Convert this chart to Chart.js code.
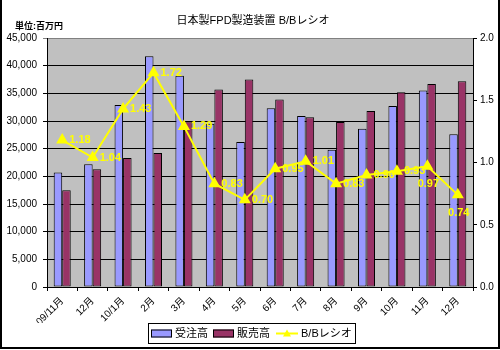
<!DOCTYPE html>
<html>
<head>
<meta charset="utf-8">
<script src="https://cdn.jsdelivr.net/npm/chart.js@4.4.1/dist/chart.umd.min.js"></script>
<style>
  html, body { margin: 0; padding: 0; background: #ffffff; }
  #wrap { position: relative; width: 500px; height: 350px; }
</style>
</head>
<body>
<div id="wrap"><canvas id="c" width="500" height="350"></canvas></div>
<script>
// Monthly figures (unit: million yen) and book-to-bill ratio
const categories = ['09/11月', '12月', '10/1月', '2月', '3月', '4月', '5月', '6月', '7月', '8月', '9月', '10月', '11月', '12月'];
const orders = [20700, 22200, 32900, 41700, 38200, 29500, 26200, 32300, 30900, 24800, 28600, 32700, 35500, 27600];
const sales = [17500, 21300, 23300, 24200, 29900, 35700, 37500, 33900, 30700, 29800, 31800, 35200, 36700, 37200];
const bbRatio = [1.18, 1.04, 1.43, 1.72, 1.29, 0.83, 0.70, 0.95, 1.01, 0.83, 0.90, 0.93, 0.97, 0.74];
const seriesNames = ['受注高', '販売高', 'B/Bレシオ'];
const chartTitle = '日本製FPD製造装置 B/Bレシオ';
const unitLabel = '単位:百万円';
// ratio labels placed under the point instead of to its right
const labelBelow = [false, false, false, false, false, false, false, false, false, false, false, false, true, true];

const FONT = "'Liberation Sans', Arial, 'Noto Sans CJK JP', sans-serif";
Chart.defaults.font.family = FONT;
Chart.defaults.color = '#000000';

const COL_ORDERS = '#9999FF';
const COL_SALES = '#993366';
const COL_RATIO = '#FFFF00';

const framePlugin = {
  id: 'frame',
  beforeDraw(chart) {
    const { ctx, chartArea: a } = chart;
    ctx.save();
    ctx.fillStyle = '#ffffff';
    ctx.fillRect(0, 0, chart.width, chart.height);
    ctx.fillStyle = '#C0C0C0';
    ctx.fillRect(a.left, a.top, a.right - a.left, a.bottom - a.top);
    ctx.restore();
  },
  afterDraw(chart) {
    const { ctx } = chart;
    ctx.save();
    // outer frame
    ctx.fillStyle = '#000000';
    ctx.fillRect(0, 0, 2, 349);
    ctx.fillRect(498, 0, 2, 349);
    ctx.fillRect(0, 347, 500, 2);
    // titles
    ctx.fillStyle = '#000000';
    ctx.textBaseline = 'middle';
    ctx.textAlign = 'center';
    ctx.font = "11px " + FONT;
    ctx.fillText(chartTitle, 253, 21);
    ctx.textAlign = 'left';
    ctx.font = "bold 9px " + FONT;
    ctx.fillText(unitLabel, 15, 27);

    // legend
    const lx = 148, ly = 323, lw = 207, lh = 20;
    ctx.lineWidth = 1;
    ctx.strokeStyle = '#000000';
    ctx.strokeRect(lx + 0.5, ly + 0.5, lw, lh);
    const cy = ly + 10.5;
    ctx.font = "11px " + FONT;
    ctx.textAlign = 'left';
    ctx.textBaseline = 'middle';
    const ds = chart.data.datasets;
    // bar swatches
    const swatchX = [151, 213];
    const textX = [175, 237];
    for (let i = 0; i < 2; i++) {
      const d = ds.find(s => s.label === seriesNames[i]);
      ctx.fillStyle = d.backgroundColor;
      ctx.fillRect(swatchX[i], cy - 4, 21, 8);
      ctx.strokeRect(swatchX[i] + 0.5, cy - 3.5, 20, 7);
      ctx.fillStyle = '#000000';
      ctx.fillText(d.label, textX[i], cy);
    }
    // line swatch
    const ld = ds.find(s => s.label === seriesNames[2]);
    ctx.strokeStyle = ld.borderColor;
    ctx.lineWidth = 2;
    ctx.beginPath();
    ctx.moveTo(276, cy);
    ctx.lineTo(298, cy);
    ctx.stroke();
    ctx.fillStyle = ld.borderColor;
    ctx.beginPath();
    ctx.moveTo(287, cy - 4);
    ctx.lineTo(291, cy + 3);
    ctx.lineTo(283, cy + 3);
    ctx.closePath();
    ctx.fill();
    ctx.fillStyle = '#000000';
    ctx.fillText(ld.label, 301, cy);
    ctx.restore();
  }
};

const ratioLabels = {
  id: 'ratioLabels',
  afterDatasetsDraw(chart) {
    const idx = chart.data.datasets.findIndex(s => s.label === seriesNames[2]);
    const meta = chart.getDatasetMeta(idx);
    const { ctx } = chart;
    ctx.save();
    ctx.font = "bold 11px " + FONT;
    ctx.fillStyle = COL_RATIO;
    ctx.textBaseline = 'middle';
    meta.data.forEach((pt, i) => {
      const txt = bbRatio[i].toFixed(2);
      if (labelBelow[i]) {
        ctx.textAlign = 'center';
        ctx.fillText(txt, pt.x + 1, pt.y + 18);
      } else {
        ctx.textAlign = 'left';
        ctx.fillText(txt, pt.x + 7, pt.y);
      }
    });
    ctx.restore();
  }
};

new Chart(document.getElementById('c'), {
  type: 'bar',
  data: {
    labels: categories,
    datasets: [
      {
        type: 'line',
        label: seriesNames[2],
        data: bbRatio,
        yAxisID: 'yR',
        borderColor: COL_RATIO,
        backgroundColor: COL_RATIO,
        borderWidth: 2,
        pointStyle: 'triangle',
        pointRadius: 5,
        pointBackgroundColor: COL_RATIO,
        pointBorderColor: COL_RATIO,
        tension: 0,
        order: 0
      },
      {
        label: seriesNames[0],
        data: orders,
        yAxisID: 'y',
        backgroundColor: COL_ORDERS,
        borderColor: '#000000',
        borderWidth: 1,
        borderSkipped: false,
        categoryPercentage: 0.56,
        barPercentage: 1.0,
        order: 1
      },
      {
        label: seriesNames[1],
        data: sales,
        yAxisID: 'y',
        backgroundColor: COL_SALES,
        borderColor: '#000000',
        borderWidth: 1,
        borderSkipped: false,
        categoryPercentage: 0.56,
        barPercentage: 1.0,
        order: 1
      }
    ]
  },
  options: {
    responsive: false,
    animation: false,
    events: [],
    layout: { padding: { top: 38, bottom: 27, left: 0, right: 0 } },
    plugins: {
      legend: { display: false },
      title: { display: false },
      tooltip: { enabled: false }
    },
    scales: {
      x: {
        grid: {
          offset: true,
          drawOnChartArea: false,
          drawTicks: true,
          tickLength: 4,
          color: '#000000'
        },
        border: { display: true, color: '#000000', width: 1 },
        ticks: {
          minRotation: 45,
          maxRotation: 45,
          autoSkip: false,
          padding: 4,
          font: { size: 10 },
          color: '#000000'
        },
        afterFit(scale) { scale.height = 36; }
      },
      y: {
        position: 'left',
        min: 0,
        max: 45000,
        ticks: {
          stepSize: 5000,
          padding: 6,
          font: { size: 10 },
          color: '#000000',
          callback: v => v.toLocaleString('en-US')
        },
        grid: {
          color: ctx => (ctx.tick && ctx.tick.value === 45000) ? '#808080' : '#000000',
          lineWidth: 1,
          drawTicks: true,
          tickLength: 4
        },
        border: { display: true, color: '#000000', width: 1 },
        afterFit(scale) { scale.width = 47; }
      },
      yR: {
        position: 'right',
        min: 0,
        max: 2.0,
        ticks: {
          stepSize: 0.5,
          padding: 3,
          font: { size: 10 },
          color: '#000000',
          callback: v => Number(v).toFixed(1)
        },
        grid: {
          drawOnChartArea: false,
          drawTicks: true,
          tickLength: 4,
          color: '#000000'
        },
        border: { display: true, color: '#000000', width: 1 },
        afterFit(scale) { scale.width = 27; }
      }
    }
  },
  plugins: [framePlugin, ratioLabels]
});
</script>
</body>
</html>
